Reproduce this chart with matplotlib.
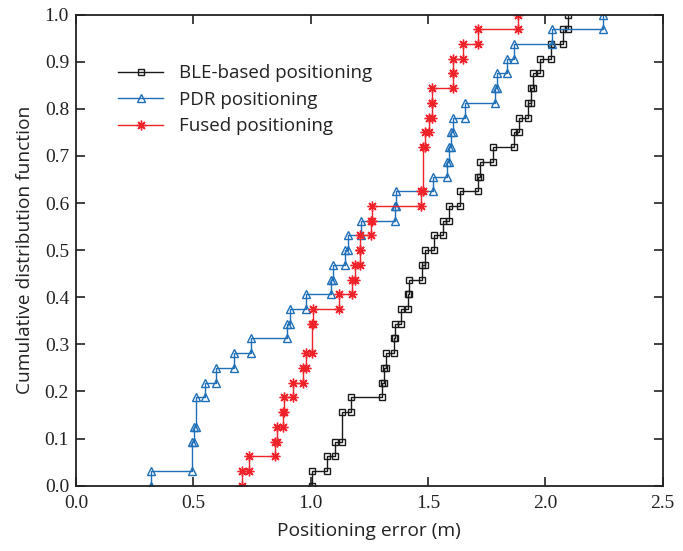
import numpy as np
import matplotlib
matplotlib.use("Agg")
import matplotlib.pyplot as plt

# Positioning errors (m), 32 samples per method
ble_err = [1.007, 1.068, 1.104, 1.135, 1.135, 1.172, 1.304, 1.312, 1.321, 1.355,
           1.359, 1.383, 1.416, 1.420, 1.473, 1.489, 1.525, 1.565, 1.591, 1.636,
           1.714, 1.721, 1.777, 1.866, 1.889, 1.927, 1.939, 1.948, 1.977, 2.024,
           2.076, 2.096]
pdr_err = [0.318, 0.494, 0.494, 0.504, 0.511, 0.511, 0.550, 0.596, 0.673, 0.744,
           0.899, 0.910, 0.982, 1.085, 1.095, 1.146, 1.158, 1.213, 1.359, 1.363,
           1.522, 1.581, 1.589, 1.598, 1.605, 1.657, 1.787, 1.794, 1.836, 1.867,
           2.027, 2.244]
fused_err = [0.709, 0.738, 0.848, 0.856, 0.880, 0.886, 0.926, 0.966, 0.978, 1.004,
             1.004, 1.011, 1.122, 1.175, 1.189, 1.208, 1.212, 1.257, 1.260, 1.468,
             1.480, 1.480, 1.480, 1.487, 1.506, 1.516, 1.518, 1.605, 1.608, 1.648,
             1.712, 1.883]

series_labels = ["BLE-based positioning", "PDR positioning", "Fused positioning"]
x_ticks = [0.0, 0.5, 1.0, 1.5, 2.0, 2.5]
y_ticks = [0.0, 0.1, 0.2, 0.3, 0.4, 0.5, 0.6, 0.7, 0.8, 0.9, 1.0]


def ecdf_stairs(values):
    """Return the staircase vertices of the empirical CDF."""
    u, c = np.unique(np.asarray(values), return_counts=True)
    f = np.cumsum(c) / len(values)
    xs, ys = [u[0]], [0.0]
    for i in range(len(u)):
        if i > 0:
            xs.append(u[i])
            ys.append(f[i - 1])
        xs.append(u[i])
        ys.append(f[i])
    return xs, ys


label_font = ["Open Sans", "DejaVu Sans"]
tick_font = "Liberation Serif"
ink = "#222222"

fig = plt.figure(figsize=(6.83, 5.51), dpi=100)
ax = fig.add_axes([0.1113, 0.1185, 0.859, 0.855])

styles = [
    dict(color="#1a1a1a", marker="s", markersize=4.2),
    dict(color="#1f6fb8", marker="^", markersize=5.5),
    dict(color="#f0222a", marker=(8, 2, 0), markersize=7),
]
for vals, lab, st in zip([ble_err, pdr_err, fused_err], series_labels, styles):
    xs, ys = ecdf_stairs(vals)
    ax.plot(xs, ys, color=st["color"], linewidth=1.0, marker=st["marker"],
            markersize=st["markersize"], markerfacecolor="none",
            markeredgecolor=st["color"], markeredgewidth=1.0, label=lab)

ax.set_xlim(0, 2.5)
ax.set_ylim(0, 1.0)
ax.set_xticks(x_ticks)
ax.set_yticks(y_ticks)
ax.set_xticklabels([f"{t:.1f}" for t in x_ticks], fontfamily=tick_font, fontsize=14)
ax.set_yticklabels([f"{t:.1f}" for t in y_ticks], fontfamily=tick_font, fontsize=14)
ax.tick_params(direction="in", length=6.5, width=1.2, top=True, right=True,
               color=ink, labelcolor=ink, pad=5)
ax.tick_params(axis="x", pad=7)
for sp in ax.spines.values():
    sp.set_linewidth(1.3)
    sp.set_color(ink)

ax.set_xlabel("Positioning error (m)", fontfamily=label_font, fontsize=13.8,
              color=ink, labelpad=7)
ax.set_ylabel("Cumulative distribution function", fontfamily=label_font,
              fontsize=13.8, color=ink, labelpad=8)

leg = ax.legend(loc="upper left", bbox_to_anchor=(0.042, 0.93), frameon=False,
                handlelength=2.45, labelspacing=0.45, handletextpad=0.85,
                prop={"family": label_font, "size": 13.5})
for t in leg.get_texts():
    t.set_color(ink)

fig.savefig("out.png", dpi=100)
